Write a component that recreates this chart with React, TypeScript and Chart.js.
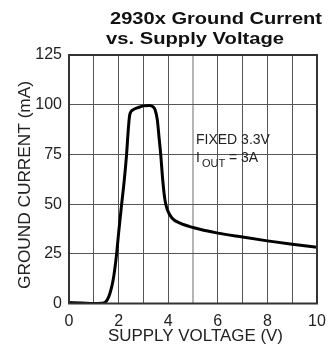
import React, { useEffect, useRef } from "react";
import { Chart, registerables } from "chart.js";

Chart.register(...registerables);

const voltage = [0, 0.5, 1, 1.3, 1.45, 1.55, 1.65, 1.78, 1.92, 2.0, 2.12, 2.23, 2.32, 2.39, 2.45, 2.59, 2.8, 3.0, 3.25, 3.38, 3.47, 3.56, 3.64, 3.7, 3.78, 3.87, 3.97, 4.15, 4.48, 5, 6, 7, 8, 9, 10];
const groundCurrent = [0.5, 0.3, 0, 0.1, 0.5, 2, 5, 11.8, 25, 35.4, 49.6, 62.2, 74.8, 87.4, 95, 97.5, 98.6, 99.4, 99.6, 99, 97.5, 92.5, 82.4, 74.8, 62, 52, 47, 43, 40.4, 38.2, 35.4, 33.4, 31.5, 29.8, 28.3];
const xTickLabels = ["0", "2", "4", "6", "8", "10"];
const titleLines = ["2930x Ground Current", "vs. Supply Voltage"];
const xTitle = "SUPPLY VOLTAGE (V)";
const yTitle = "GROUND CURRENT (mA)";
const noteLine1 = "FIXED 3.3V";
const noteI = "I";
const noteSub = "OUT";
const noteRest = " = 3A";

const FONT = "'Liberation Sans', Arial, sans-serif";

const textPlugin = {
  id: "textPlugin",
  afterDraw(chart: any) {
    const ctx = chart.ctx as CanvasRenderingContext2D;
    const a = chart.chartArea;
    ctx.save();
    ctx.strokeStyle = "#333";
    ctx.lineWidth = 2;
    ctx.strokeRect(a.left, a.top, a.right - a.left, a.bottom - a.top);

    const drawStretched = (t: string, x: number, y: number, w: number) => {
      const m = ctx.measureText(t).width;
      ctx.save();
      ctx.translate(x, y);
      ctx.scale(w / m, 1);
      ctx.fillText(t, 0, 0);
      ctx.restore();
    };

    ctx.fillStyle = "#111";
    ctx.font = `bold 17px ${FONT}`;
    ctx.textBaseline = "alphabetic";
    ctx.textAlign = "left";
    drawStretched(titleLines[0], 110, 23.5, 212);
    drawStretched(titleLines[1], 106, 43.5, 178);

    ctx.font = `16px ${FONT}`;
    ctx.fillStyle = "#222";
    ctx.textAlign = "center";
    ctx.textBaseline = "middle";
    drawStretched(xTitle, 195.5, 337, 175);
    ctx.save();
    ctx.translate(26, 185);
    ctx.rotate(-Math.PI / 2);
    drawStretched(yTitle, 0, 0, 208);
    ctx.restore();

    ctx.textAlign = "left";
    ctx.textBaseline = "alphabetic";
    ctx.font = `14px ${FONT}`;
    ctx.fillText(noteLine1, 196, 144);
    ctx.fillText(noteI, 196, 162);
    const iw = ctx.measureText(noteI).width;
    ctx.font = `11px ${FONT}`;
    ctx.fillText(noteSub, 196 + iw + 2, 167);
    const sw = ctx.measureText(noteSub).width;
    ctx.font = `14px ${FONT}`;
    ctx.fillText(noteRest, 196 + iw + 2 + sw, 162);
    ctx.restore();
  },
};

export default function App() {
  const ref = useRef<HTMLCanvasElement>(null);
  useEffect(() => {
    if (!ref.current) return;
    const chart = new Chart(ref.current, {
      type: "scatter",
      data: {
        datasets: [
          {
            data: voltage.map((v, i) => ({ x: v, y: groundCurrent[i] })),
            showLine: true,
            borderColor: "#000",
            borderWidth: 3,
            pointRadius: 0,
            cubicInterpolationMode: "monotone",
          } as any,
        ],
      },
      options: {
        responsive: false,
        animation: false,
        layout: { padding: { top: 55, right: 19, left: 0, bottom: 0 } },
        plugins: { legend: { display: false }, tooltip: { enabled: false }, title: { display: false } },
        scales: {
          x: {
            type: "linear",
            min: 0,
            max: 10,
            border: { display: false },
            grid: {
              drawTicks: false,
              color: (c: any) => (c.tick && c.tick.value === 5 ? "#b5b5b5" : "#555"),
              lineWidth: (c: any) => (c.tick && c.tick.value === 5 ? 2 : 1),
            },
            ticks: {
              stepSize: 1,
              padding: 8,
              color: "#222",
              font: { family: FONT, size: 16 },
              autoSkip: false,
              maxRotation: 0,
              callback: (v: any) => {
                const s = String(v);
                return xTickLabels.includes(s) ? s : "";
              },
            },
            afterFit: (s: any) => {
              s.height = 46.5;
            },
          },
          y: {
            min: 0,
            max: 125,
            border: { display: false },
            grid: { drawTicks: false, color: "#555", lineWidth: 1 },
            ticks: {
              stepSize: 25,
              padding: 7,
              color: "#222",
              font: { family: FONT, size: 16 },
            },
            afterFit: (s: any) => {
              s.width = 69;
            },
          },
        },
      },
      plugins: [textPlugin],
    });
    return () => chart.destroy();
  }, []);
  return (
    <div style={{ position: "fixed", left: 0, top: 0, width: 336, height: 350, background: "#fff" }}>
      <canvas ref={ref} width={336} height={350} />
    </div>
  );
}
